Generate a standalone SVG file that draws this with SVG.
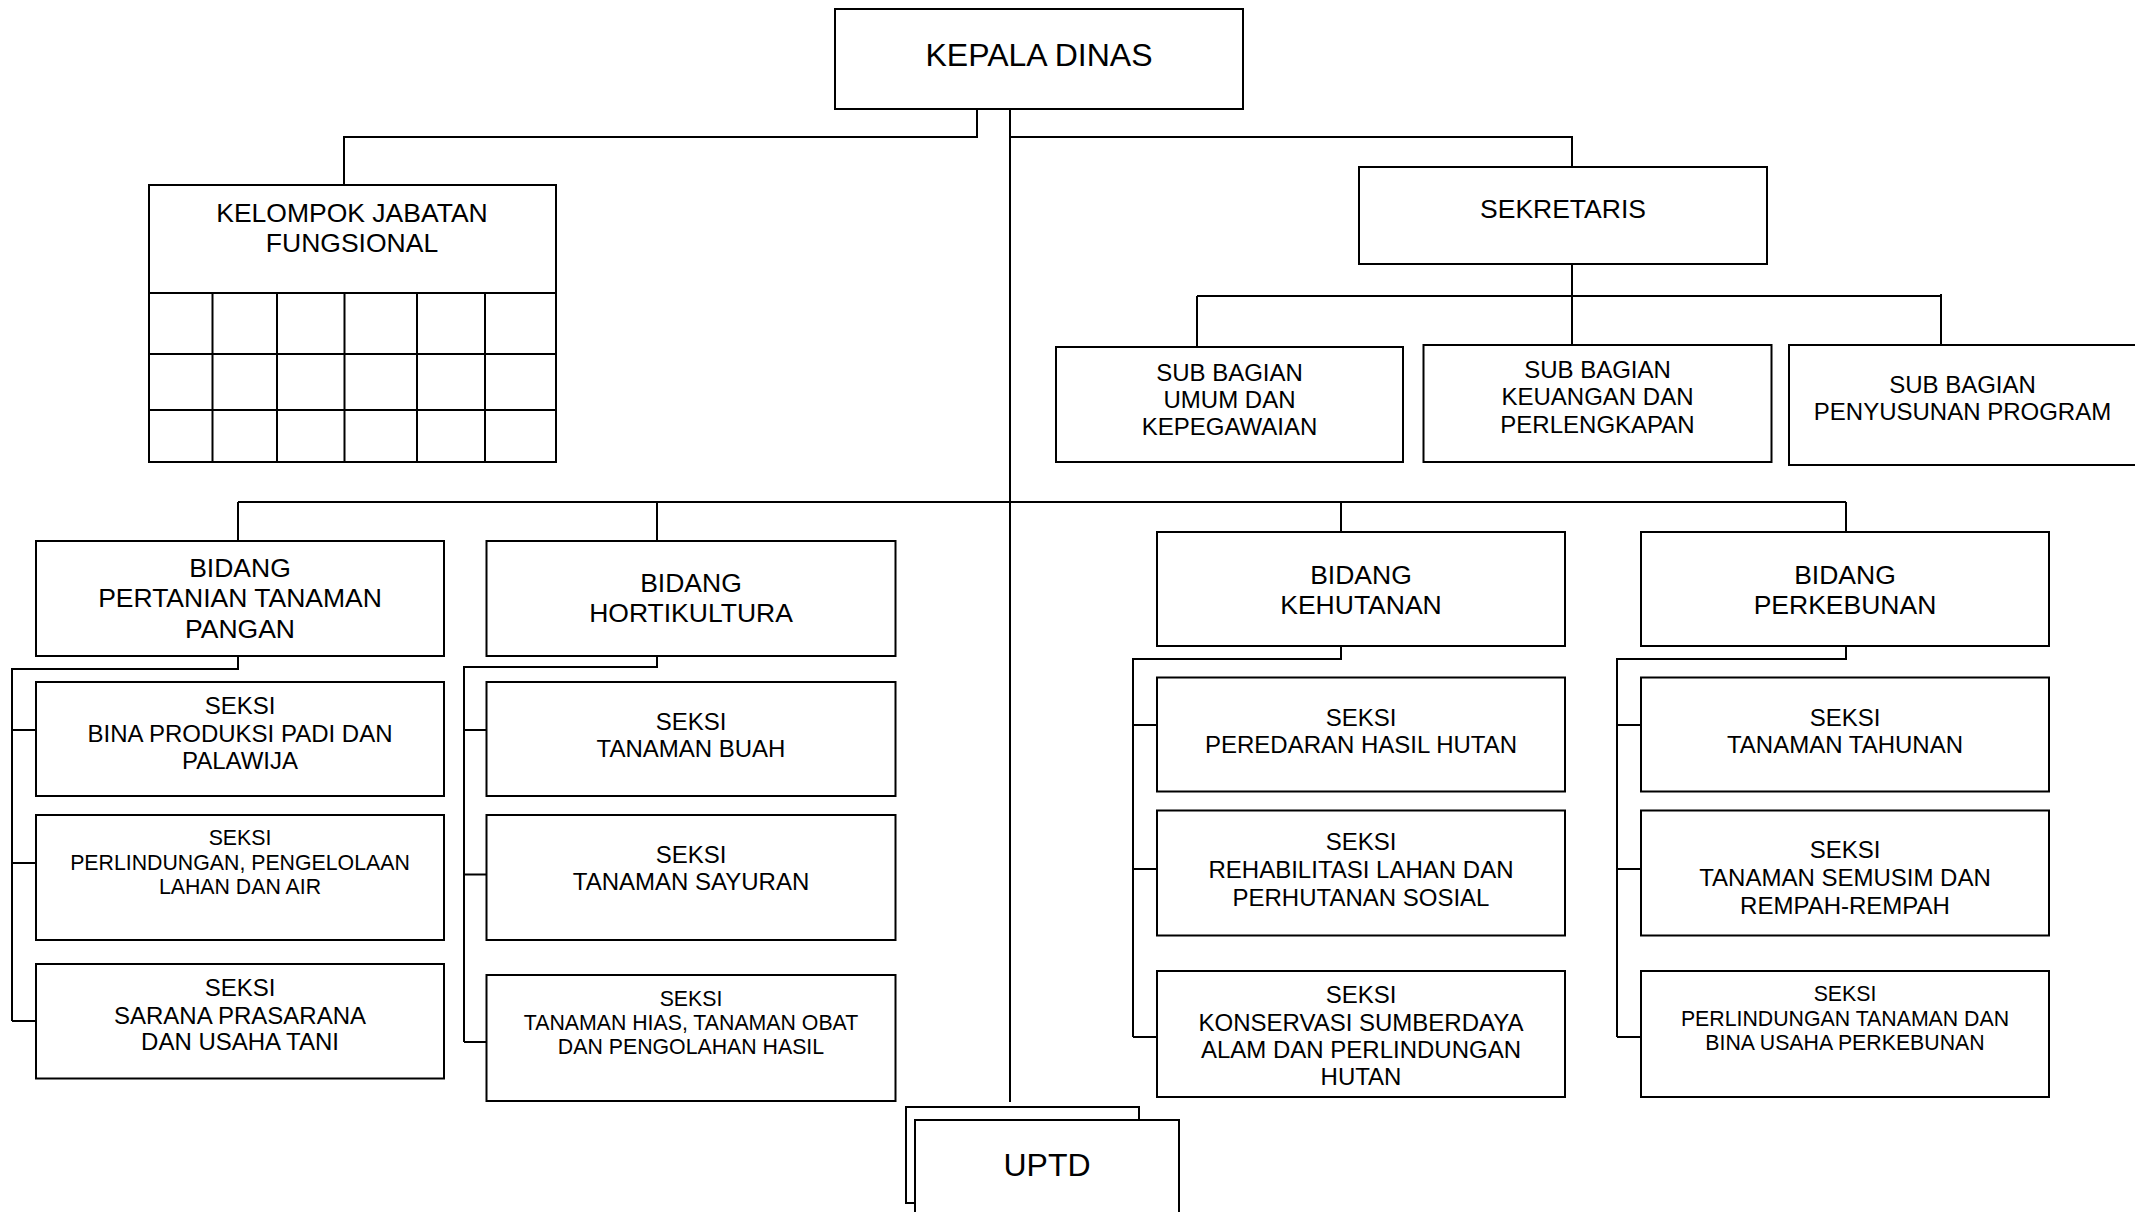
<svg xmlns="http://www.w3.org/2000/svg" width="2135" height="1212" viewBox="0 0 2135 1212">
<style>
rect{fill:#fff;stroke:#000;stroke-width:2}
.c path,.g path{fill:none;stroke:#000;stroke-width:2}
text{font-family:"Liberation Sans",Arial,sans-serif;fill:#000;text-anchor:middle}
.t32{font-size:32px}
.t26{font-size:26.5px}
.t24{font-size:24px}
.t21{font-size:21.3px}
</style>
<rect x="0" y="0" width="2135" height="1212" style="stroke:none"/>
<g class="c" id="connectors">
<path d="M977 109V137H344V185"/>
<path d="M1010 109V1102"/>
<path d="M1010 137H1572V167"/>
<path d="M1572 264V345"/>
<path d="M1197 296H1941M1197 296V347M1941 294V345"/>
<path d="M238 502H1846M238 502V541M657 502V541M1341 502V532M1846 502V532"/>
<path d="M238 656V669H12V1021M12 730H36M12 863H36M12 1021H36"/>
<path d="M657 656V667H464V1042M464 730H486M464 874.5H486M464 1042H486"/>
<path d="M1341 646V659H1133V1037M1133 725H1157M1133 869H1157M1133 1037H1157"/>
<path d="M1846 646V659H1617V1037M1617 725H1641M1617 869H1641M1617 1037H1641"/>
</g>
<g id="kepala-dinas"><rect x="835" y="9" width="408" height="100"/><text class="t32" x="1039" y="66">KEPALA DINAS</text></g>
<g id="kelompok-jabatan-fungsional" class="g"><rect x="149" y="185" width="407" height="277"/>
<path d="M149 293H556M149 354H556M149 410H556M212.5 293V462M277 293V462M344.5 293V462M417 293V462M485 293V462"/>
<text class="t26" x="352" y="222">KELOMPOK JABATAN</text><text class="t26" x="352" y="252">FUNGSIONAL</text></g>
<g id="sekretaris"><rect x="1359" y="167" width="408" height="97"/><text class="t26" x="1563" y="218">SEKRETARIS</text></g>
<g id="sub-bagian-umum"><rect x="1056" y="347" width="347" height="115"/><text class="t24" x="1229.5" y="381">SUB BAGIAN</text><text class="t24" x="1229.5" y="408">UMUM DAN</text><text class="t24" x="1229.5" y="435">KEPEGAWAIAN</text></g>
<g id="sub-bagian-keuangan"><rect x="1423.5" y="345" width="348" height="117"/><text class="t24" x="1597.5" y="378">SUB BAGIAN</text><text class="t24" x="1597.5" y="405">KEUANGAN DAN</text><text class="t24" x="1597.5" y="433">PERLENGKAPAN</text></g>
<g id="sub-bagian-penyusunan"><rect x="1789" y="345" width="360" height="120"/><text class="t24" x="1962.5" y="393">SUB BAGIAN</text><text class="t24" x="1962.5" y="420">PENYUSUNAN PROGRAM</text></g>
<g id="bidang-pertanian"><rect x="36" y="541" width="408" height="115"/><text class="t26" x="240" y="577">BIDANG</text><text class="t26" x="240" y="607">PERTANIAN TANAMAN</text><text class="t26" x="240" y="638">PANGAN</text></g>
<g id="bidang-hortikultura"><rect x="486.5" y="541" width="409" height="115"/><text class="t26" x="691" y="592">BIDANG</text><text class="t26" x="691" y="622">HORTIKULTURA</text></g>
<g id="bidang-kehutanan"><rect x="1157" y="532" width="408" height="114"/><text class="t26" x="1361" y="584">BIDANG</text><text class="t26" x="1361" y="614">KEHUTANAN</text></g>
<g id="bidang-perkebunan"><rect x="1641" y="532" width="408" height="114"/><text class="t26" x="1845" y="584">BIDANG</text><text class="t26" x="1845" y="614">PERKEBUNAN</text></g>
<g id="seksi-bina-produksi"><rect x="36" y="682" width="408" height="114"/><text class="t24" x="240" y="714">SEKSI</text><text class="t24" x="240" y="742">BINA PRODUKSI PADI DAN</text><text class="t24" x="240" y="769">PALAWIJA</text></g>
<g id="seksi-perlindungan-lahan"><rect x="36" y="815" width="408" height="125"/><text class="t21" x="240" y="845">SEKSI</text><text class="t21" x="240" y="870">PERLINDUNGAN, PENGELOLAAN</text><text class="t21" x="240" y="894">LAHAN DAN AIR</text></g>
<g id="seksi-sarana-prasarana"><rect x="36" y="964" width="408" height="114.5"/><text class="t24" x="240" y="996">SEKSI</text><text class="t24" x="240" y="1024">SARANA PRASARANA</text><text class="t24" x="240" y="1050">DAN USAHA TANI</text></g>
<g id="seksi-tanaman-buah"><rect x="486.5" y="682" width="409" height="114"/><text class="t24" x="691" y="730">SEKSI</text><text class="t24" x="691" y="757">TANAMAN BUAH</text></g>
<g id="seksi-tanaman-sayuran"><rect x="486.5" y="815" width="409" height="125"/><text class="t24" x="691" y="863">SEKSI</text><text class="t24" x="691" y="890">TANAMAN SAYURAN</text></g>
<g id="seksi-tanaman-hias"><rect x="486.5" y="975" width="409" height="126"/><text class="t21" x="691" y="1006">SEKSI</text><text class="t21" x="691" y="1030">TANAMAN HIAS, TANAMAN OBAT</text><text class="t21" x="691" y="1054">DAN PENGOLAHAN HASIL</text></g>
<g id="seksi-peredaran"><rect x="1157" y="677.5" width="408" height="114"/><text class="t24" x="1361" y="726">SEKSI</text><text class="t24" x="1361" y="753">PEREDARAN HASIL HUTAN</text></g>
<g id="seksi-rehabilitasi"><rect x="1157" y="810.5" width="408" height="125"/><text class="t24" x="1361" y="850">SEKSI</text><text class="t24" x="1361" y="878">REHABILITASI LAHAN DAN</text><text class="t24" x="1361" y="906">PERHUTANAN SOSIAL</text></g>
<g id="seksi-konservasi"><rect x="1157" y="971" width="408" height="126"/><text class="t24" x="1361" y="1003">SEKSI</text><text class="t24" x="1361" y="1031">KONSERVASI SUMBERDAYA</text><text class="t24" x="1361" y="1058">ALAM DAN PERLINDUNGAN</text><text class="t24" x="1361" y="1085">HUTAN</text></g>
<g id="seksi-tanaman-tahunan"><rect x="1641" y="677.5" width="408" height="114"/><text class="t24" x="1845" y="726">SEKSI</text><text class="t24" x="1845" y="753">TANAMAN TAHUNAN</text></g>
<g id="seksi-tanaman-semusim"><rect x="1641" y="810.5" width="408" height="125"/><text class="t24" x="1845" y="858">SEKSI</text><text class="t24" x="1845" y="886">TANAMAN SEMUSIM DAN</text><text class="t24" x="1845" y="914">REMPAH-REMPAH</text></g>
<g id="seksi-perlindungan-tanaman"><rect x="1641" y="971" width="408" height="126"/><text class="t21" x="1845" y="1001">SEKSI</text><text class="t21" x="1845" y="1026">PERLINDUNGAN TANAMAN DAN</text><text class="t21" x="1845" y="1050">BINA USAHA PERKEBUNAN</text></g>
<g id="uptd"><rect x="906" y="1107" width="233" height="96"/><rect x="915" y="1120" width="264" height="110"/><text class="t32" x="1047" y="1176">UPTD</text></g>
</svg>
